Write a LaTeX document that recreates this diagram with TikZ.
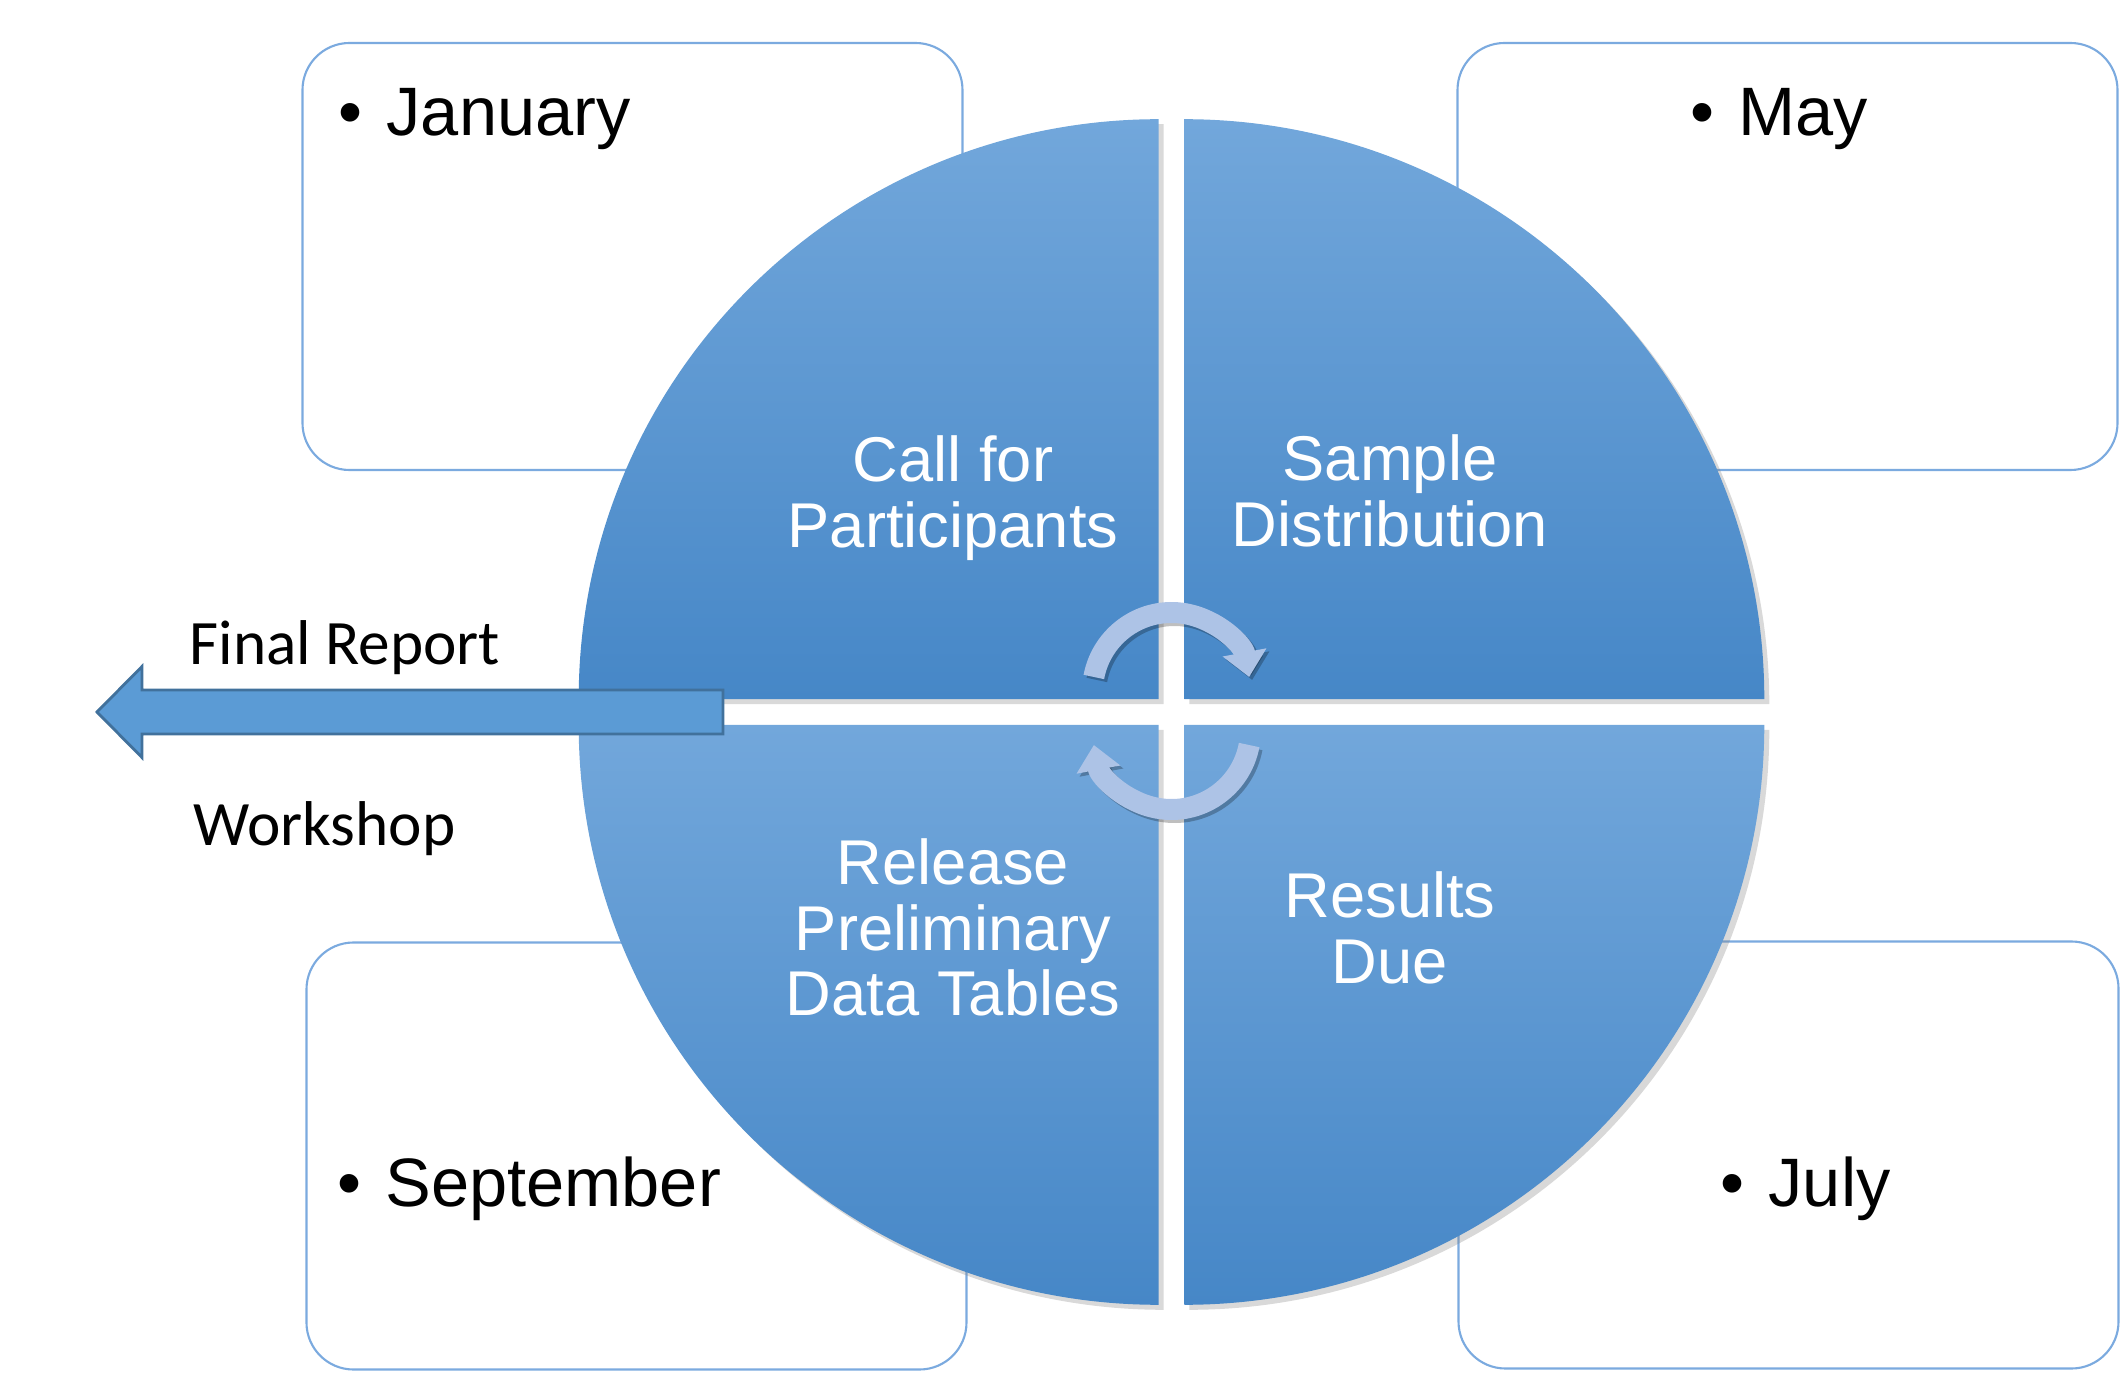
\documentclass[tikz,border=0pt]{standalone}
\usepackage{fontspec}
\setmainfont{Liberation Sans}
\newfontfamily\calibri{Carlito}
\usepackage{tikz}
\usetikzlibrary{arrows.meta, positioning, shadows}
\definecolor{cyclight}{HTML}{72A7DB}
\definecolor{cycmid}{HTML}{5699DB}
\definecolor{cycdark}{HTML}{4687C7}
\definecolor{boxline}{HTML}{7BAADF}
\definecolor{arrowfill}{HTML}{5B9BD5}
\definecolor{arrowline}{HTML}{41719C}
\definecolor{turnfill}{HTML}{ADC3E6}

\begin{document}
\begin{tikzpicture}[
    box/.style={rectangle, rounded corners=4.7mm, draw=boxline, line width=0.6pt, fill=white,
                minimum width=66mm, minimum height=42.7mm},
    quad/.style={top color=cyclight, middle color=cycmid, bottom color=cycdark,
                 drop shadow={shadow xshift=0.5mm, shadow yshift=-0.5mm, opacity=0.3}},
    month/.style={anchor=base west, inner sep=0pt, font=\fontsize{19.5}{23}\selectfont},
    phase/.style={text=white, align=center, inner sep=0pt, font=\fontsize{18}{18.6}\selectfont},
    side/.style={anchor=base west, inner sep=0pt, font=\calibri\fontsize{18}{22}\selectfont},
    turn/.style={draw=turnfill, line width=2.1mm, -{Triangle[length=2.5mm, width=4.3mm]}}
]
\useasboundingbox (-11.715,-6.77) rectangle (9.485,7.12);

% month boxes behind the wheel
\node[box] (janbox)  at (-5.39,4.555)  {};
\node[box] (maybox)  at (6.16,4.555)   {};
\node[box] (sepbox)  at (-5.35,-4.44)  {};
\node[box] (julbox)  at (6.17,-4.43)   {};

\node[month] (jan) at (-8.335,5.76)  {\textbullet\hspace{2.4mm}January};
\node[month] (may) at (5.185,5.76)   {\textbullet\hspace{2.4mm}May};
\node[month] (sep) at (-8.345,-4.94) {\textbullet\hspace{2.4mm}September};
\node[month] (jul) at (5.485,-4.94)  {\textbullet\hspace{2.4mm}July};

% four quarters of the wheel
\path[quad] (-0.128,0.128)  -- ++(-5.8,0) arc[start angle=180, end angle=90,  radius=5.8] -- cycle;
\path[quad] (0.128,0.128)   -- ++(0,5.8)  arc[start angle=90,  end angle=0,   radius=5.8] -- cycle;
\path[quad] (0.128,-0.128)  -- ++(5.8,0)  arc[start angle=0,   end angle=-90, radius=5.8] -- cycle;
\path[quad] (-0.128,-0.128) -- ++(0,-5.8) arc[start angle=270, end angle=180, radius=5.8] -- cycle;

\node[phase] (call)    at (-2.185,2.14)  {Call for\\Participants};
\node[phase] (sample)  at (2.185,2.21)   {Sample\\Distribution};
\node[phase] (release) at (-2.185,-2.155){Release\\Preliminary\\Data Tables};
\node[phase] (results) at (2.185,-2.16)  {Results\\Due};

% turning arrows in the middle
\draw[turn, draw=black, opacity=0.25] (0.03,0.175) ++(169.4:0.79) arc[start angle=169.4, end angle=10.6, radius=0.79];
\draw[turn] (0,0.205) ++(169.4:0.79) arc[start angle=169.4, end angle=10.6, radius=0.79];
\draw[turn, draw=black, opacity=0.25] (0.03,-0.215) ++(-10.6:0.79) arc[start angle=-10.6, end angle=-169.4, radius=0.79];
\draw[turn] (0,-0.185) ++(-10.6:0.79) arc[start angle=-10.6, end angle=-169.4, radius=0.79];

% block arrow out to the left
\draw[fill=arrowfill, draw=arrowline, line width=0.8pt]
    (-10.745,0) -- (-10.295,0.455) -- (-10.295,0.22) -- (-4.485,0.22)
    -- (-4.485,-0.22) -- (-10.295,-0.22) -- (-10.295,-0.455) -- cycle;

\node[side] (report)   at (-9.825,0.48)  {Final Report};
\node[side] (workshop) at (-9.785,-1.33) {Workshop};
\end{tikzpicture}
\end{document}
